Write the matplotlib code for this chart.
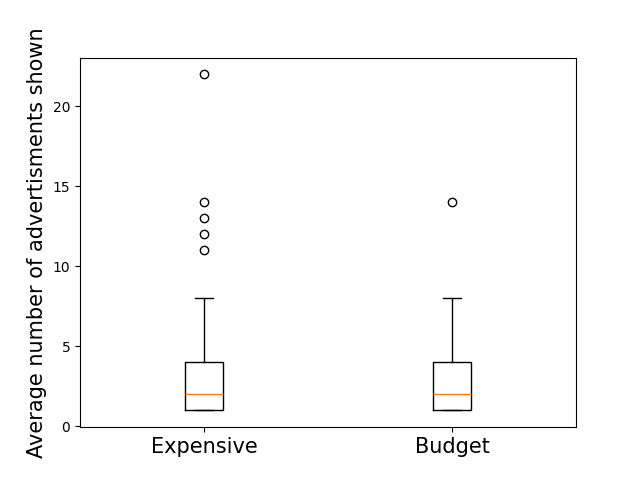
import matplotlib
matplotlib.use("Agg")
import matplotlib.pyplot as plt

labels = ["Expensive", "Budget"]
expensive = [1] * 12 + [2] * 10 + [3] * 5 + [4] * 6 + [5, 6, 7, 8] + [11, 12, 13, 14, 22]
budget = [1] * 12 + [2] * 10 + [3] * 5 + [4] * 6 + [5, 6, 8] + [14]

fig, ax = plt.subplots(figsize=(6.4, 4.8), dpi=100)
ax.boxplot([expensive, budget])
ax.set_xticks([1, 2], labels, fontsize=15)
ax.set_ylabel("Average number of advertisments shown", fontsize=15)
fig.savefig("out.png")
